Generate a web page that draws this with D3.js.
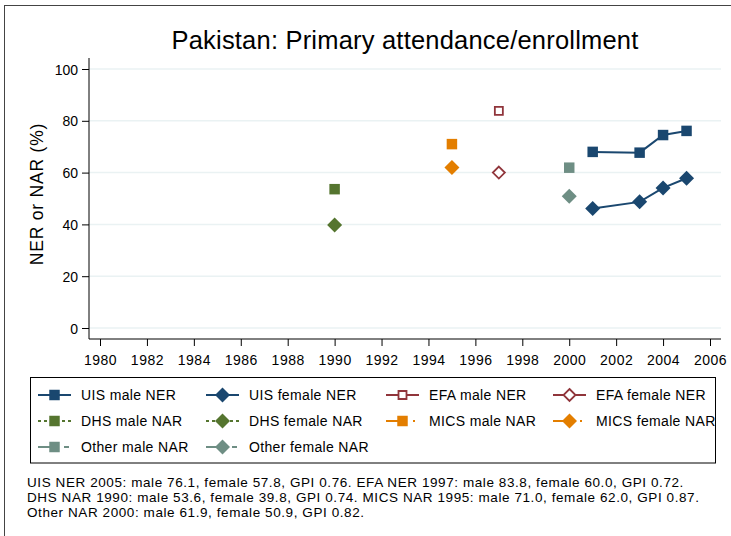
<!DOCTYPE html>
<html><head><meta charset="utf-8">
<script src="https://cdn.jsdelivr.net/npm/d3@7"></script>
<style>body{margin:0;background:#fff}svg{display:block}text{font-family:"Liberation Sans",Arial,sans-serif}</style>
</head><body>
<script>
const uisYears = [2001, 2003, 2004, 2005];
const uisMale = [68.0, 67.7, 74.5, 76.1];
const uisFemale = [46.1, 48.7, 54.1, 57.8];
const efaYears = [1997];
const efaMale = [83.8];
const efaFemale = [60.0];
const dhsYears = [1990];
const dhsMale = [53.6];
const dhsFemale = [39.8];
const micsYears = [1995];
const micsMale = [71.0];
const micsFemale = [62.0];
const otherYears = [2000];
const otherMale = [61.9];
const otherFemale = [50.9];
const xTicks = d3.range(1980, 2007, 2);
const yTicks = [0, 20, 40, 60, 80, 100];
const footnotes = [
 "UIS NER 2005: male 76.1, female 57.8, GPI 0.76. EFA NER 1997: male 83.8, female 60.0, GPI 0.72.",
 "DHS NAR 1990: male 53.6, female 39.8, GPI 0.74. MICS NAR 1995: male 71.0, female 62.0, GPI 0.87.",
 "Other NAR 2000: male 61.9, female 50.9, GPI 0.82."
];

const W = 731, H = 536;
const svg = d3.select("body").append("svg").attr("width", W).attr("height", H);
svg.append("rect").attr("x", 4.5).attr("y", 5.5).attr("width", W + 10).attr("height", H + 10)
  .attr("fill", "#fff").attr("stroke", "#444").attr("stroke-width", 1);

const x = d3.scaleLinear().domain([1980, 2006]).range([100, 710]);
const y = d3.scaleLinear().domain([0, 100]).range([328, 69]);
const plotL = 89, plotR = 721, plotT = 58, plotB = 339;

svg.append("g").selectAll("line").data(yTicks).join("line")
  .attr("x1", plotL).attr("x2", plotR).attr("y1", d => y(d)).attr("y2", d => y(d))
  .attr("stroke", "#eaf2f3").attr("stroke-width", 1.5);

const yAxis = svg.append("g").attr("transform", `translate(${plotL},0)`)
  .call(d3.axisLeft(y).tickValues(yTicks).tickSize(7).tickPadding(4));
yAxis.select(".domain").remove();
yAxis.append("line").attr("x1", 0).attr("x2", 0).attr("y1", plotT).attr("y2", plotB).attr("stroke", "#000");
yAxis.selectAll("text").attr("font-size", 14).attr("fill", "#000").attr("dy", "0.36em");
const xAxis = svg.append("g").attr("transform", `translate(0,${plotB})`)
  .call(d3.axisBottom(x).tickValues(xTicks).tickFormat(d3.format("d")).tickSize(7).tickPadding(5));
xAxis.select(".domain").remove();
xAxis.append("line").attr("x1", plotL).attr("x2", plotR).attr("y1", 0).attr("y2", 0).attr("stroke", "#000");
xAxis.selectAll("text").attr("font-size", 14).attr("letter-spacing", 0.5).attr("fill", "#000").attr("y", 26).attr("dy", null);

svg.append("text").attr("x", 405).attr("y", 48.5).attr("text-anchor", "middle")
  .attr("font-size", 25.5).attr("letter-spacing", 0.2).text("Pakistan: Primary attendance/enrollment");
svg.append("text").attr("transform", "translate(43,194) rotate(-90)").attr("text-anchor", "middle")
  .attr("font-size", 17.5).attr("letter-spacing", 0.8).text("NER or NAR (%)");

const sq = d3.symbol().type(d3.symbolSquare).size(110);
const dm = (s) => `M0,${-s}L${s},0L0,${s}L${-s},0Z`;

const series = [
  {name: "UIS male NER", years: uisYears, vals: uisMale, color: "#1a476f", shape: "sq", hollow: false, dash: null},
  {name: "UIS female NER", years: uisYears, vals: uisFemale, color: "#1a476f", shape: "dm", hollow: false, dash: null},
  {name: "EFA male NER", years: efaYears, vals: efaMale, color: "#90353b", shape: "sq", hollow: true, dash: null},
  {name: "EFA female NER", years: efaYears, vals: efaFemale, color: "#90353b", shape: "dm", hollow: true, dash: null},
  {name: "DHS male NAR", years: dhsYears, vals: dhsMale, color: "#55752f", shape: "sq", hollow: false, dash: "3,3"},
  {name: "DHS female NAR", years: dhsYears, vals: dhsFemale, color: "#55752f", shape: "dm", hollow: false, dash: "3,3"},
  {name: "MICS male NAR", years: micsYears, vals: micsMale, color: "#e37e00", shape: "sq", hollow: false, dash: "18,9,2,10"},
  {name: "MICS female NAR", years: micsYears, vals: micsFemale, color: "#e37e00", shape: "dm", hollow: false, dash: "18,9,2,10"},
  {name: "Other male NAR", years: otherYears, vals: otherMale, color: "#6e8e84", shape: "sq", hollow: false, dash: "18,8,5,10"},
  {name: "Other female NAR", years: otherYears, vals: otherFemale, color: "#6e8e84", shape: "dm", hollow: false, dash: "18,8,5,10"}
];

function marker(g, s) {
  let p;
  if (s.shape === "sq") p = g.append("path").attr("d", s.hollow ? d3.symbol().type(d3.symbolSquare).size(64)() : sq());
  else p = g.append("path").attr("d", s.hollow ? dm(6) : dm(7.5));
  if (s.hollow) p.attr("fill", "#fff").attr("stroke", s.color).attr("stroke-width", 1.8);
  else p.attr("fill", s.color);
}

const line = d3.line().x(d => x(d[0])).y(d => y(d[1]));
series.forEach(s => {
  const pts = s.years.map((yr, i) => [yr, s.vals[i]]);
  if (pts.length > 1) {
    svg.append("path").attr("d", line(pts)).attr("fill", "none").attr("stroke", s.color).attr("stroke-width", 2)
      .attr("stroke-dasharray", s.dash);
  }
  pts.forEach(p => {
    const g = svg.append("g").attr("transform", `translate(${x(p[0])},${y(p[1])})`);
    marker(g, s);
  });
});

svg.append("rect").attr("x", 30.5).attr("y", 377.5).attr("width", 685).attr("height", 85.5)
  .attr("fill", "#fff").attr("stroke", "#000").attr("stroke-width", 1);
const colX = [38, 206, 386, 553];
const rowY = [395, 421, 447];
series.forEach((s, i) => {
  const cx = colX[i % 4], cy = rowY[Math.floor(i / 4)];
  const g = svg.append("g");
  g.append("line").attr("x1", cx).attr("x2", cx + 33).attr("y1", cy).attr("y2", cy)
    .attr("stroke", s.color).attr("stroke-width", 2).attr("stroke-dasharray", s.dash);
  const mg = g.append("g").attr("transform", `translate(${cx + 16.5},${cy})`);
  marker(mg, s);
  g.append("text").attr("x", cx + 43).attr("y", cy + 5).attr("font-size", 14).attr("letter-spacing", 0.35).text(s.name);
});

svg.append("g").selectAll("text").data(footnotes).join("text")
  .attr("x", 27).attr("y", (d, i) => 487 + i * 15).attr("font-size", 13.5).attr("letter-spacing", 0.58).text(d => d);
</script>
</body></html>
